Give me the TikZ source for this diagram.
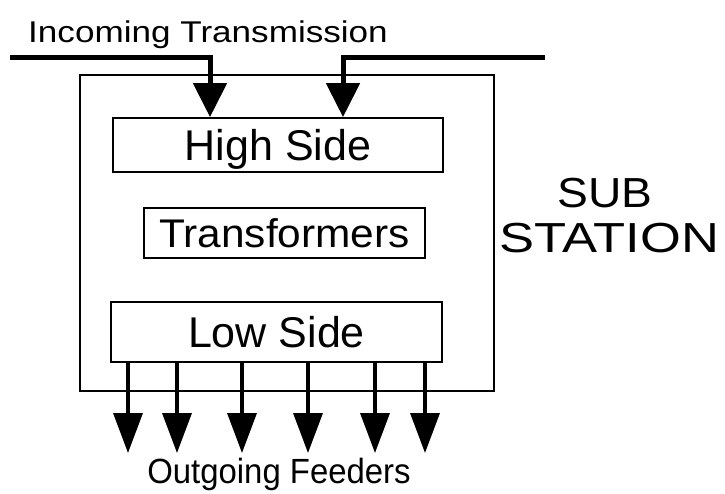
\documentclass[tikz,border=0pt]{standalone}
\usepackage{fontspec}
\setmainfont{Liberation Sans}
\usetikzlibrary{arrows.meta}
\newcommand{\fsz}[1]{\fontsize{#1}{#1}\selectfont}
\tikzset{
  panel/.style={draw, line width=1.8pt, rectangle, inner sep=0pt, text depth=0pt},
  feed/.style={line width=5pt, -{Triangle[width=33pt,length=34pt]}},
  outfeed/.style={line width=3.5pt, -{Triangle[width=29pt,length=40pt]}},
  label/.style={anchor=base, inner sep=0pt},
}
\begin{document}
\begin{tikzpicture}[x=1pt,y=-1pt]
\useasboundingbox (0,0) rectangle (725,493);

% substation enclosure
\node[draw, line width=1.6pt, minimum width=414pt, minimum height=316pt,
      anchor=north west, inner sep=0pt] (sub) at (79,74) {};

% internal sections
\node[panel, minimum width=330pt, minimum height=54pt, text height=31pt,
      font=\fsz{43pt}] (high) at (278,145) {High Side};
\node[panel, minimum width=281pt, minimum height=50pt, text height=29pt,
      font=\fsz{40pt}] (trans) at (284.5,233) {\scalebox{1.06}[1]{Transformers}};
\node[panel, minimum width=331pt, minimum height=60pt, text height=31pt,
      font=\fsz{43pt}] (low) at (276.5,332) {Low Side};

% labels
\node[label, font=\fsz{30pt}] (inc) at (208,42) {\scalebox{1.17}[1]{Incoming Transmission}};
\node[label, font=\fsz{42pt}] (s1) at (605,207) {\scalebox{1.1}[1]{SUB}};
\node[label, font=\fsz{42pt}] (s2) at (609,252) {\scalebox{1.25}[1]{STATION}};
\node[label, font=\fsz{35pt}] (outg) at (279,483) {\scalebox{0.94}[1]{Outgoing Feeders}};

% incoming transmission lines
\coordinate (inL) at (10,57);
\coordinate (inLc) at (210,57);
\coordinate (inR) at (545,57);
\coordinate (inRc) at (343,57);
\draw[feed] (inL) -- (inLc) -- (inLc |- high.north);
\draw[feed] (inR) -- (inRc) -- (inRc |- high.north);

% outgoing feeders
\foreach \x [count=\i] in {128,177,242,308,375,425} {
  \coordinate (f\i) at (\x,453);
  \draw[outfeed] (f\i |- low.south) -- (f\i);
}
\end{tikzpicture}
\end{document}
